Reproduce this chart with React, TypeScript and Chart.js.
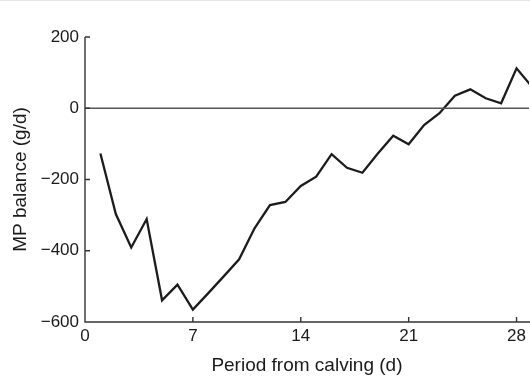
import React, { useEffect, useRef } from "react";
import { Chart, registerables } from "chart.js";

Chart.register(...registerables);

const days = [1, 2, 3, 4, 5, 6, 7, 8, 9, 10, 11, 12, 13, 14, 15, 16, 17, 18, 19, 20, 21, 22, 23, 24, 25, 26, 27, 28, 29];
const mpBalance = [-127, -297, -391, -311, -539, -495, -565, -519, -472, -424, -337, -272, -263, -218, -192, -129, -167, -181, -127, -77, -101, -47, -14, 35, 53, 28, 14, 112, 60];
const xTicks = [0, 7, 14, 21, 28];
const yTicks = [-600, -400, -200, 0, 200];
const zeroLine = [
  { x: 0, y: 0 },
  { x: 40, y: 0 },
];

const inwardTicks = {
  id: "inwardTicks",
  afterDatasetsDraw(chart: any) {
    const { ctx, chartArea, scales } = chart;
    ctx.save();
    ctx.strokeStyle = "#333";
    ctx.lineWidth = 1.4;
    ctx.beginPath();
    ctx.moveTo(chartArea.left, scales.y.getPixelForValue(200));
    ctx.lineTo(chartArea.left, chartArea.bottom);
    ctx.lineTo(chartArea.right + 5, chartArea.bottom);
    for (const v of yTicks) {
      const py = scales.y.getPixelForValue(v);
      ctx.moveTo(chartArea.left, py);
      ctx.lineTo(chartArea.left + 5, py);
    }
    for (const v of xTicks) {
      const px = scales.x.getPixelForValue(v);
      ctx.moveTo(px, chartArea.bottom);
      ctx.lineTo(px, chartArea.bottom - 5);
    }
    ctx.stroke();
    ctx.restore();
  },
};

const FONT = "'Liberation Sans', Arial, sans-serif";

export default function App() {
  const ref = useRef<HTMLCanvasElement | null>(null);
  useEffect(() => {
    if (!ref.current) return;
    const chart = new Chart(ref.current, {
      type: "line",
      data: {
        datasets: [
          {
            data: zeroLine,
            borderColor: "#555",
            borderWidth: 1.3,
            pointRadius: 0,
          },
          {
            data: days.map((d, i) => ({ x: d, y: mpBalance[i] })),
            borderColor: "#1c1c1c",
            borderWidth: 2.3,
            pointRadius: 0,
            tension: 0,
          },
        ],
      },
      plugins: [inwardTicks],
      options: {
        animation: false,
        responsive: false,
        maintainAspectRatio: false,
        layout: { padding: { top: 37, right: 0, left: 0, bottom: 0 } },
        plugins: { legend: { display: false }, tooltip: { enabled: false } },
        scales: {
          x: {
            type: "linear",
            min: 0,
            max: 28.8,
            afterBuildTicks: (s: any) => {
              s.ticks = xTicks.map((v) => ({ value: v }));
            },
            afterFit: (s: any) => {
              s.height = 55;
            },
            grid: { display: false, drawTicks: false },
            border: { display: false },
            ticks: {
              padding: 4,
              color: "#1a1a1a",
              font: { family: FONT, size: 17 },
              maxRotation: 0,
            },
            title: {
              display: true,
              text: "Period from calving (d)",
              color: "#1a1a1a",
              font: { family: FONT, size: 19 },
              padding: { top: 0, bottom: 0 },
            },
          },
          y: {
            type: "linear",
            min: -600,
            max: 200,
            afterBuildTicks: (s: any) => {
              s.ticks = yTicks.map((v) => ({ value: v }));
            },
            afterFit: (s: any) => {
              s.width = 85;
            },
            grid: { display: false, drawTicks: false },
            border: { display: false },
            ticks: {
              padding: 6,
              color: "#1a1a1a",
              font: { family: FONT, size: 17 },
              callback: (v: any) => (Number(v) < 0 ? "\u2212" + Math.abs(Number(v)) : String(v)),
            },
            title: {
              display: true,
              text: "MP balance (g/d)",
              color: "#1a1a1a",
              font: { family: FONT, size: 19 },
              padding: { top: 9, bottom: 0 },
            },
          },
        },
      },
    });
    return () => chart.destroy();
  }, []);
  return (
    <div style={{ position: "absolute", left: 0, top: 0, width: 530, height: 377, overflow: "hidden", background: "#fff" }}>
      <div style={{ position: "absolute", left: 0, top: 0, width: 530, height: 1, background: "#e6e6e6" }} />
      <canvas ref={ref} width={530} height={377} style={{ display: "block" }} />
    </div>
  );
}
